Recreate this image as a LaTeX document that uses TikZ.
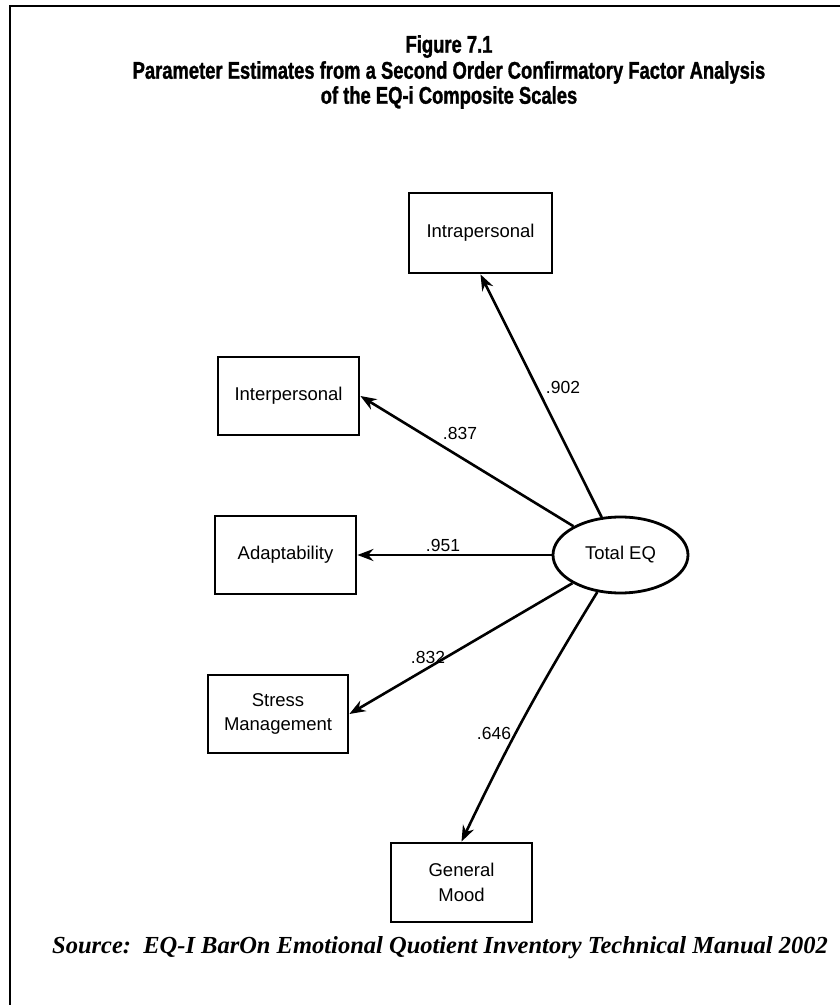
\documentclass[tikz,border=0pt]{standalone}
\usepackage{fontspec}
\setmainfont{Liberation Sans}
\newfontfamily\titlefont[FakeStretch=0.76,FakeBold=1.2]{Liberation Sans}
\newfontfamily\srcfont{Liberation Serif}
\usetikzlibrary{arrows.meta,shapes.geometric}
\begin{document}
\begin{tikzpicture}[x=1pt,y=1pt,
  box/.style={draw,line width=2.8pt,minimum width=141pt,minimum height=78pt,inner sep=0pt,align=center,font=\fontsize{18.5}{24.5}\selectfont},
  latent/.style={draw,ellipse,line width=2.8pt,minimum width=135pt,minimum height=76pt,inner sep=0pt,font=\fontsize{18.5}{22}\selectfont},
  path/.style={line width=2.6pt,-{Stealth[length=16pt,width=12pt]}},
  coef/.style={font=\fontsize{17.5}{20}\selectfont,inner sep=0pt}]
\useasboundingbox (0,0) rectangle (840,1005);
\fill[white] (0,0) rectangle (840,1005);
\draw[line width=2.2pt] (10,0) -- (10,999) -- (840,999);
\node[align=center,font=\titlefont\bfseries\fontsize{24.2}{26}\selectfont] (title) at (449,933)
  {Figure 7.1\\Parameter Estimates from a Second Order Confirmatory Factor Analysis\\[-1pt]of the EQ-i Composite Scales};
\node[box,minimum width=143pt,minimum height=80pt] (intra) at (480.5,772) {Intrapersonal};
\node[box] (inter) at (288.5,609) {Interpersonal};
\node[box] (adapt) at (285.5,450) {Adaptability};
\node[box,minimum width=140pt] (stress) at (278,291) {Stress\\Management};
\node[box,minimum height=79pt] (mood) at (461.5,122.5) {General\\Mood};
\node[latent] (eq) at (620.5,450) {Total EQ};
\draw[path] (eq) -- (intra.south);
\draw[path] (eq) -- (inter.east);
\draw[path] (eq) -- (adapt.east);
\draw[path] (eq) -- (stress.east);
\draw[path] (eq) to[bend right=3] (mood.north);
\node[coef] (c1) at (563,618) {.902};
\node[coef] (c2) at (460,572) {.837};
\node[coef] (c3) at (443,460) {.951};
\node[coef] (c4) at (428,348) {.832};
\node[coef] (c5) at (494,272) {.646};
\node[font=\srcfont\bfseries\itshape\fontsize{24.5}{28}\selectfont] (src) at (440,57)
  {Source:\ \ EQ-I BarOn Emotional Quotient Inventory Technical Manual 2002};
\end{tikzpicture}
\end{document}
